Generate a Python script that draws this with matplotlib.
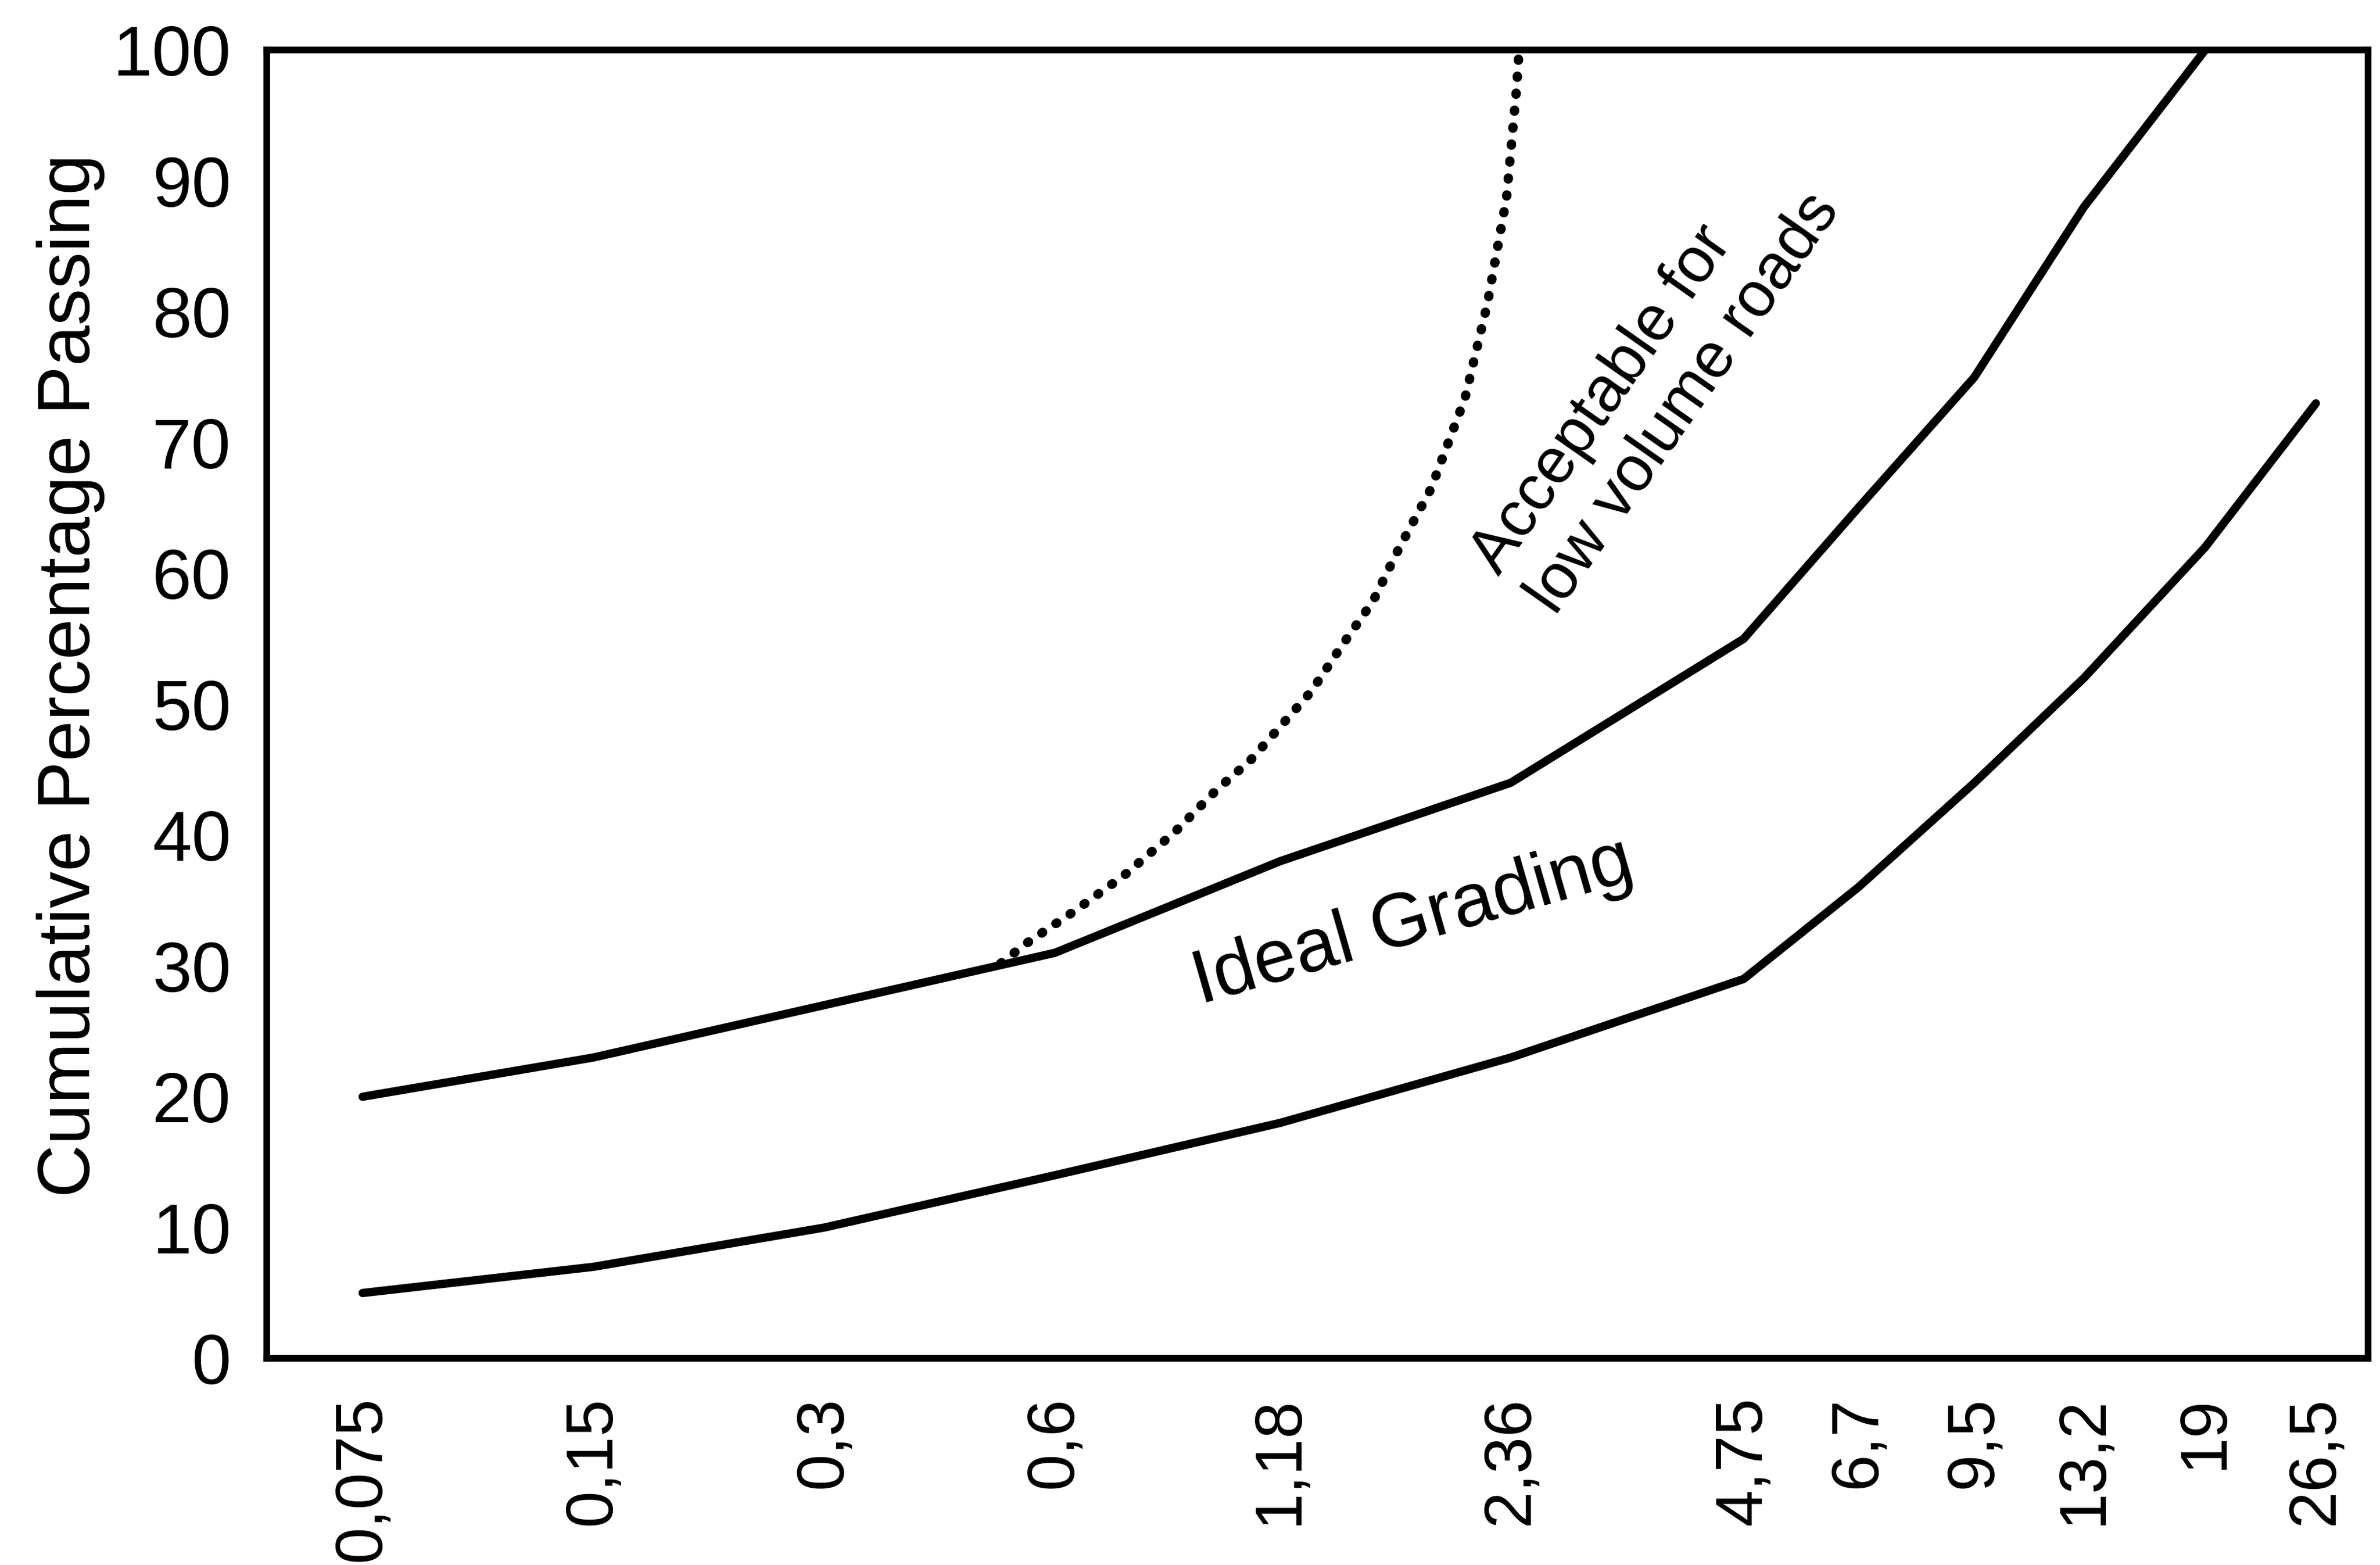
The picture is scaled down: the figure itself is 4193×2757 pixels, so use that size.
import matplotlib
matplotlib.use("Agg")
import matplotlib.pyplot as plt

plt.rcParams['font.family'] = ['Liberation Sans', 'DejaVu Sans']

# Tamices (mm) y etiquetas con coma decimal
sieve_mm = [0.075, 0.15, 0.3, 0.6, 1.18, 2.36, 4.75, 6.7, 9.5, 13.2, 19, 26.5]
sieve_labels = ["0,075", "0,15", "0,3", "0,6", "1,18", "2,36",
                "4,75", "6,7", "9,5", "13,2", "19", "26,5"]

# Envolvente superior (ideal grading)
upper_x = [0.075, 0.15, 0.3, 0.6, 1.18, 2.36, 4.75, 6.7, 9.5, 13.2, 19]
upper_y = [20, 23, 27, 31, 38, 44, 55, 65, 75, 88, 100]

# Envolvente inferior
lower_x = sieve_mm
lower_y = [5, 7, 10, 14, 18, 23, 29, 36, 44, 52, 62, 73]

# Límite aceptable para caminos de bajo volumen (punteado)
dotted_x = [0.51, 0.55, 0.633, 0.738, 0.859, 0.977, 1.079, 1.177, 1.297, 1.414,
            1.561, 1.683, 1.858, 2.057, 2.2, 2.33, 2.40, 2.42]
dotted_y = [30.2, 31.7, 34.1, 36.9, 40.2, 43.5, 45.7, 48.2, 51.0, 54.3,
            57.9, 61.8, 66.5, 73.4, 80.6, 88.7, 96.9, 100]

y_ticks = [0, 10, 20, 30, 40, 50, 60, 70, 80, 90, 100]

fig = plt.figure(figsize=(4193 / 300, 2757 / 300), dpi=300)
ax = fig.add_axes([0.112, 0.132, 0.883, 0.836])

ax.plot(upper_x, upper_y, color='black', lw=3.5, solid_capstyle='round')
ax.plot(lower_x, lower_y, color='black', lw=3.5, solid_capstyle='round')
ax.plot(dotted_x, dotted_y, color='black', lw=4.0,
        linestyle=(0, (0.1, 1.7)), dash_capstyle='round')

ax.set_xscale('log')
ax.set_xlim(0.0562, 31)
ax.set_ylim(0, 100)

ax.set_xticks(sieve_mm)
ax.set_xticklabels(sieve_labels, rotation=90, fontsize=28)
ax.minorticks_off()
ax.set_yticks(y_ticks)
ax.set_yticklabels([str(v) for v in y_ticks], fontsize=30)
ax.tick_params(axis='both', length=0)
ax.tick_params(axis='x', pad=16)
ax.tick_params(axis='y', pad=15)

for s in ax.spines.values():
    s.set_linewidth(2.8)

ax.set_ylabel('Cumulative Percentage Passing', fontsize=31)
ax.yaxis.set_label_coords(-0.077, 0.522)

ax.text(1.76, 33.3, 'Ideal Grading', fontsize=32, rotation=16,
        ha='center', va='center', rotation_mode='anchor')
ax.text(3.65, 74.5, 'Acceptable for\nlow volume roads', fontsize=27, rotation=55,
        ha='center', va='center', multialignment='left', rotation_mode='anchor')

fig.savefig('out.png', dpi=300)
